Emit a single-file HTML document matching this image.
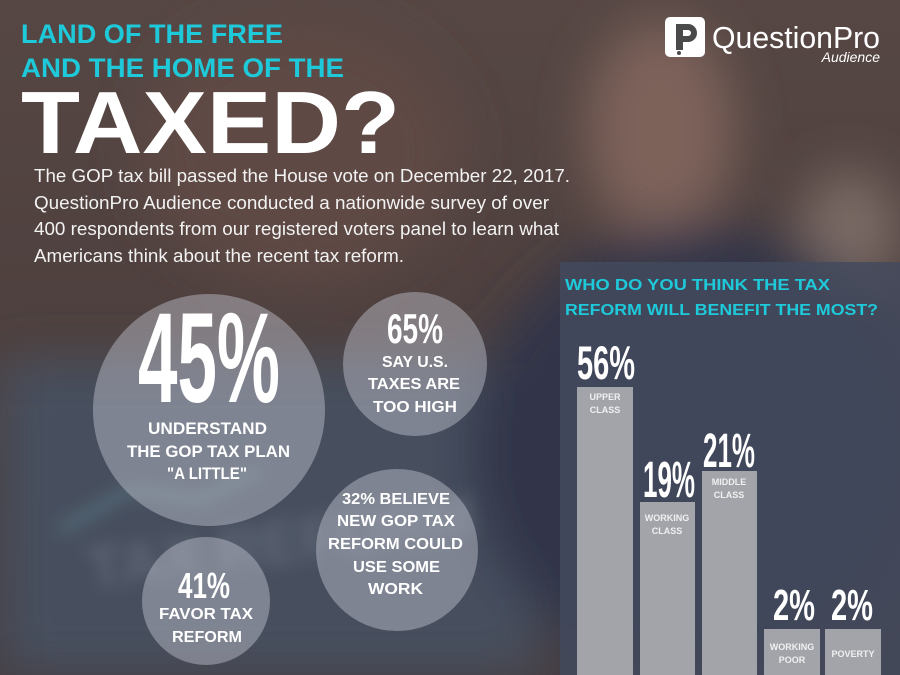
<!DOCTYPE html>
<html><head><meta charset="utf-8"><style>
html,body{margin:0;padding:0;background:#4f4240;width:900px;height:675px;overflow:hidden;}
svg{display:block;}
</style></head><body>
<svg width="900" height="675" viewBox="0 0 900 675" xmlns="http://www.w3.org/2000/svg" font-family="Liberation Sans, sans-serif" overflow="hidden">
<defs>
<filter id="b" x="-50%" y="-50%" width="200%" height="200%"><feGaussianBlur stdDeviation="25"/></filter>
<filter id="b2" x="-50%" y="-50%" width="200%" height="200%"><feGaussianBlur stdDeviation="8"/></filter>
<linearGradient id="bg" x1="0" y1="0" x2="0" y2="1">
<stop offset="0" stop-color="#564744"/><stop offset="0.5" stop-color="#4e403e"/><stop offset="1" stop-color="#463d40"/>
</linearGradient>
<clipPath id="c"><rect width="900" height="675"/></clipPath>
</defs>
<g clip-path="url(#c)">
<rect width="900" height="675" fill="url(#bg)"/>
<g filter="url(#b)">
<ellipse cx="300" cy="150" rx="160" ry="130" fill="#5e4a44"/>
<ellipse cx="660" cy="130" rx="75" ry="110" fill="#7d625a"/>
<ellipse cx="850" cy="230" rx="50" ry="60" fill="#7a6a65"/>
<rect x="0" y="360" width="540" height="315" fill="#47505f"/>
<ellipse cx="700" cy="450" rx="230" ry="225" fill="#30354a"/>
</g>
<g filter="url(#b2)" opacity="0.6">
<path d="M60 530 L130 490 L200 500 L260 470" stroke="#5d7e86" stroke-width="10" fill="none"/>
<text x="90" y="590" font-size="60" font-weight="bold" fill="#6e7785" transform="rotate(-8 90 590)">TAX REFORM</text>
</g>
</g>
<rect x="560" y="262" width="340" height="413" fill="#434a5d" opacity="0.85"/>

<text x="21" y="43" font-size="27" font-weight="bold" fill="#1ec9d9" textLength="262" lengthAdjust="spacingAndGlyphs">LAND OF THE FREE</text>
<text x="21" y="77" font-size="27" font-weight="bold" fill="#1ec9d9" textLength="323" lengthAdjust="spacingAndGlyphs">AND THE HOME OF THE</text>
<text x="21" y="153" font-size="88" font-weight="bold" fill="#ffffff" textLength="379" lengthAdjust="spacingAndGlyphs">TAXED?</text>

<g font-size="18.5" fill="#f2f2f2">
<text x="34" y="182" textLength="536" lengthAdjust="spacingAndGlyphs">The GOP tax bill passed the House vote on December 22, 2017.</text>
<text x="34" y="209" textLength="515" lengthAdjust="spacingAndGlyphs">QuestionPro Audience conducted a nationwide survey of over</text>
<text x="34" y="235" textLength="525" lengthAdjust="spacingAndGlyphs">400 respondents from our registered voters panel to learn what</text>
<text x="34" y="262" textLength="370" lengthAdjust="spacingAndGlyphs">Americans think about the recent tax reform.</text>
</g>

<rect x="665" y="17" width="40" height="40" rx="5" fill="#ffffff"/>
<path d="M676 24 h12 a9 9 0 0 1 0 18 h-5 v8 h-7 z M683 30 v6 h5 a3 3 0 0 0 0 -6 z" fill="#4a4a4a" fill-rule="evenodd"/>
<circle cx="679" cy="53" r="2" fill="#4a4a4a"/>
<text x="712" y="48" font-size="31" fill="#ffffff" textLength="168" lengthAdjust="spacingAndGlyphs">QuestionPro</text>
<text x="880" y="62" font-size="14" font-style="italic" fill="#ffffff" text-anchor="end">Audience</text>

<g fill="#c4c6d0" fill-opacity="0.45">
<circle cx="209" cy="410" r="116"/>
<circle cx="415" cy="364" r="72"/>
<circle cx="397" cy="550" r="81"/>
<circle cx="206" cy="601" r="64"/>
</g>
<g fill="#ffffff" font-weight="bold">
<text x="138" y="402" font-size="128" textLength="142" lengthAdjust="spacingAndGlyphs">45%</text>
<text x="148" y="434" font-size="17" textLength="119" lengthAdjust="spacingAndGlyphs">UNDERSTAND</text>
<text x="127" y="457" font-size="17" textLength="163" lengthAdjust="spacingAndGlyphs">THE  GOP TAX PLAN</text>
<text x="167" y="479" font-size="17" textLength="80" lengthAdjust="spacingAndGlyphs">"A LITTLE"</text>

<text x="387" y="343" font-size="42" textLength="56" lengthAdjust="spacingAndGlyphs">65%</text>
<text x="382" y="367" font-size="16" textLength="66" lengthAdjust="spacingAndGlyphs">SAY U.S.</text>
<text x="368" y="389" font-size="16" textLength="92" lengthAdjust="spacingAndGlyphs">TAXES ARE</text>
<text x="373" y="412" font-size="16" textLength="84" lengthAdjust="spacingAndGlyphs">TOO HIGH</text>

<text x="342" y="504" font-size="16" textLength="108" lengthAdjust="spacingAndGlyphs">32% BELIEVE</text>
<text x="337" y="526" font-size="16" textLength="118" lengthAdjust="spacingAndGlyphs">NEW GOP TAX</text>
<text x="328" y="549" font-size="16" textLength="135" lengthAdjust="spacingAndGlyphs">REFORM COULD</text>
<text x="353" y="572" font-size="16" textLength="87" lengthAdjust="spacingAndGlyphs">USE SOME</text>
<text x="368" y="594" font-size="16" textLength="55" lengthAdjust="spacingAndGlyphs">WORK</text>

<text x="178" y="598" font-size="36" textLength="52" lengthAdjust="spacingAndGlyphs">41%</text>
<text x="159" y="619" font-size="16" textLength="94" lengthAdjust="spacingAndGlyphs">FAVOR TAX</text>
<text x="172" y="642" font-size="16" textLength="70" lengthAdjust="spacingAndGlyphs">REFORM</text>
</g>

<text x="565" y="290" font-size="15.5" font-weight="bold" fill="#1ec9d9" textLength="265" lengthAdjust="spacingAndGlyphs">WHO DO YOU THINK THE TAX</text>
<text x="565" y="315" font-size="15.5" font-weight="bold" fill="#1ec9d9" textLength="313" lengthAdjust="spacingAndGlyphs">REFORM WILL BENEFIT THE MOST?</text>
<g fill="#a2a4aa">
<rect x="577" y="387" width="56" height="288"/>
<rect x="640" y="502" width="55" height="173"/>
<rect x="702" y="471" width="55" height="204"/>
<rect x="764" y="629" width="56" height="46"/>
<rect x="825" y="629" width="56" height="46"/>
</g>
<g fill="#ffffff" font-weight="bold">
<text x="577" y="379" font-size="47" textLength="58" lengthAdjust="spacingAndGlyphs">56%</text>
<text x="643" y="497" font-size="51" textLength="52" lengthAdjust="spacingAndGlyphs">19%</text>
<text x="703" y="467" font-size="48" textLength="52" lengthAdjust="spacingAndGlyphs">21%</text>
<text x="773" y="620" font-size="44" textLength="42" lengthAdjust="spacingAndGlyphs">2%</text>
<text x="831" y="620" font-size="44" textLength="42" lengthAdjust="spacingAndGlyphs">2%</text>
</g>
<g fill="#f0f0f0" font-weight="bold" font-size="9" text-anchor="middle">
<text x="605" y="400">UPPER</text><text x="605" y="413">CLASS</text>
<text x="667" y="521">WORKING</text><text x="667" y="534">CLASS</text>
<text x="729" y="485">MIDDLE</text><text x="729" y="498">CLASS</text>
<text x="792" y="650">WORKING</text><text x="792" y="663">POOR</text>
<text x="853" y="657">POVERTY</text>
</g>
</svg>
</body></html>
